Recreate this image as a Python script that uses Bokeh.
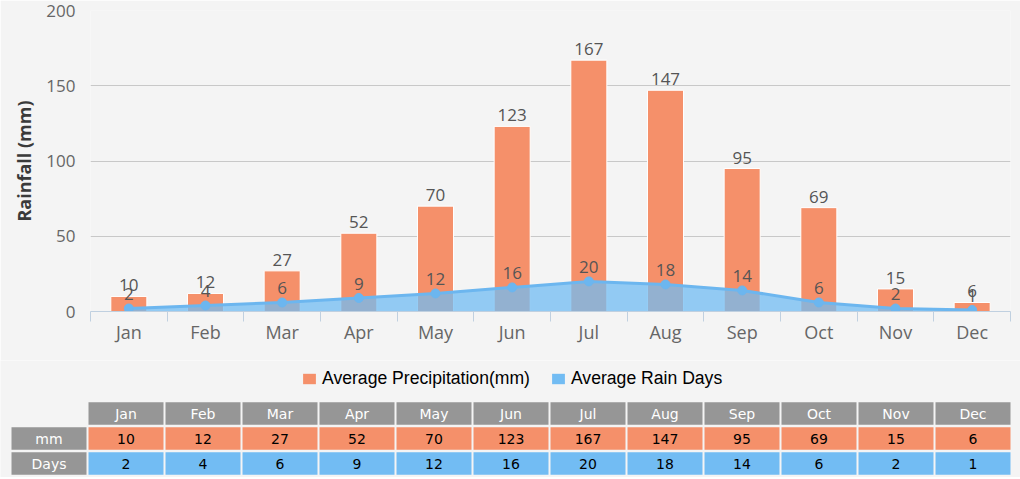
from bokeh.plotting import figure
from bokeh.models import Range1d, FixedTicker, Legend, LegendItem, ColumnDataSource
from bokeh.core.properties import value
from bokeh.embed import file_html
from bokeh.resources import INLINE

# ---- data ----
months = ["Jan", "Feb", "Mar", "Apr", "May", "Jun", "Jul", "Aug", "Sep", "Oct", "Nov", "Dec"]
precip_mm = [10, 12, 27, 52, 70, 123, 167, 147, 95, 69, 15, 6]
rain_days = [2, 4, 6, 9, 12, 16, 20, 18, 14, 6, 2, 1]
y_ticks = [0, 50, 100, 150, 200]
row_labels = ["mm", "Days"]
series_names = ["Average Precipitation(mm)", "Average Rain Days"]

# ---- styles ----
BG = "#f4f4f4"
SALMON = "#f5906a"
BLUE = "#72bcf3"
LINE_BLUE = "#6cb6ef"
GREY_CELL = "#969696"
CHART_FONT = "Open Sans"
TABLE_FONT = "DejaVu Sans"

n = len(months)
centers = [i + 0.5 for i in range(n)]
bounds = [float(i) for i in range(n + 1)]

src = ColumnDataSource(dict(
    x=centers,
    mm=precip_mm,
    days=rain_days,
    mm_txt=[str(v) for v in precip_mm],
    days_txt=[str(v) for v in rain_days],
))

p = figure(width=1020, height=360, x_range=Range1d(0, n), y_range=Range1d(0, 200),
           output_backend="svg", toolbar_location=None,
           min_border_left=90, min_border_right=10, min_border_top=10, min_border_bottom=49)
p.background_fill_color = BG
p.border_fill_color = BG
p.outline_line_color = None

# axes
p.xaxis.ticker = FixedTicker(ticks=centers, minor_ticks=bounds)
p.xaxis.major_label_overrides = {c: m for c, m in zip(centers, months)}
p.xaxis.axis_line_color = "#c0d0e0"
p.xaxis.major_tick_line_color = None
p.xaxis.major_tick_out = 0
p.xaxis.major_tick_in = 0
p.xaxis.minor_tick_line_color = "#c0d0e0"
p.xaxis.minor_tick_out = 10
p.xaxis.minor_tick_in = 0
p.xaxis.major_label_standoff = -2
p.xaxis.major_label_text_font = CHART_FONT
p.xaxis.major_label_text_font_size = "18px"
p.xaxis.major_label_text_color = "#666666"

p.yaxis.ticker = FixedTicker(ticks=y_ticks)
p.yaxis.axis_line_color = None
p.yaxis.major_tick_line_color = None
p.yaxis.minor_tick_line_color = None
p.yaxis.major_tick_out = 0
p.yaxis.major_label_standoff = 15
p.yaxis.major_label_text_font = CHART_FONT
p.yaxis.major_label_text_font_size = "17px"
p.yaxis.major_label_text_color = "#666666"
p.yaxis.axis_label = "Rainfall (mm)"
p.yaxis.axis_label_text_font = CHART_FONT
p.yaxis.axis_label_text_font_style = "bold"
p.yaxis.axis_label_text_font_size = "18px"
p.yaxis.axis_label_text_color = "#3a3a3a"
p.yaxis.axis_label_standoff = 7

p.xgrid.grid_line_color = None
p.ygrid.ticker = FixedTicker(ticks=y_ticks[1:])
p.ygrid.grid_line_color = "#c8c8c8"

# bars
p.vbar(x="x", top="mm", width=0.47, source=src, fill_color=SALMON,
       line_color="white", line_width=1)
# area + line
p.varea(x="x", y1=0, y2="days", source=src, fill_color=BLUE, fill_alpha=0.75)
p.line(x="x", y="days", source=src, line_color=LINE_BLUE, line_width=3)
p.scatter(x="x", y="days", source=src, size=9, fill_color=LINE_BLUE, line_color=LINE_BLUE)

# data labels
p.text(x="x", y="mm", text="mm_txt", source=src, text_align="center",
       text_baseline="alphabetic", y_offset=-11, text_font=value(CHART_FONT),
       text_font_size="17px", text_color="#555555")
p.text(x="x", y="days", text="days_txt", source=src, text_align="center",
       text_baseline="alphabetic", y_offset=-14, text_font=value(CHART_FONT),
       text_font_size="17px", text_color="#555555")

# ---- legend + table (second root) ----
PITCH = 77.0
W2, H2 = 1020, 117
x0 = -10.0 / PITCH
t = figure(width=W2, height=H2, x_range=Range1d(x0, x0 + W2 / PITCH), y_range=Range1d(H2, 0),
           output_backend="svg", toolbar_location=None,
           min_border_left=0, min_border_right=0, min_border_top=0, min_border_bottom=0)
t.background_fill_color = BG
t.border_fill_color = BG
t.outline_line_color = None
t.axis.visible = False
t.grid.grid_line_color = None

row_y = [53, 78, 103]
cw = 75.0 / PITCH
rh = 22.5
col_x = [i + 1.5 for i in range(n)]

# grey header / label cells
gx = col_x + [0.5] * len(row_labels)
gy = [row_y[0]] * n + row_y[1:1 + len(row_labels)]
gtext = months + row_labels
gsrc = ColumnDataSource(dict(x=gx, y=gy, text=gtext))
t.rect(x="x", y="y", width=cw, height=rh, source=gsrc, fill_color=GREY_CELL, line_color=None)
t.text(x="x", y="y", text="text", source=gsrc, text_align="center", text_baseline="middle",
       text_font=value(TABLE_FONT), text_font_size="14px", text_color="#ffffff")

# value rows
mm_src = ColumnDataSource(dict(x=col_x, y=[row_y[1]] * n, text=[str(v) for v in precip_mm]))
days_src = ColumnDataSource(dict(x=col_x, y=[row_y[2]] * n, text=[str(v) for v in rain_days]))
mm_cells = t.rect(x="x", y="y", width=cw, height=rh, source=mm_src,
                  fill_color=SALMON, line_color=None)
days_cells = t.rect(x="x", y="y", width=cw, height=rh, source=days_src,
                    fill_color=BLUE, line_color=None)
for s in (mm_src, days_src):
    t.text(x="x", y="y", text="text", source=s, text_align="center", text_baseline="middle",
           text_font=value(TABLE_FONT), text_font_size="14px", text_color="#000000")

legend = Legend(items=[LegendItem(label=series_names[0], renderers=[mm_cells], index=0),
                       LegendItem(label=series_names[1], renderers=[days_cells], index=0)],
                location=(301, 88), orientation="horizontal",
                glyph_width=16, glyph_height=13, label_height=13,
                label_standoff=5, spacing=20, padding=0, margin=0,
                label_text_font="Liberation Sans", label_text_font_size="17.6px",
                label_text_color="#000000",
                background_fill_alpha=0, border_line_color=None)
t.add_layout(legend, "center")

open("out.html", "w").write(file_html([p, t], INLINE))
